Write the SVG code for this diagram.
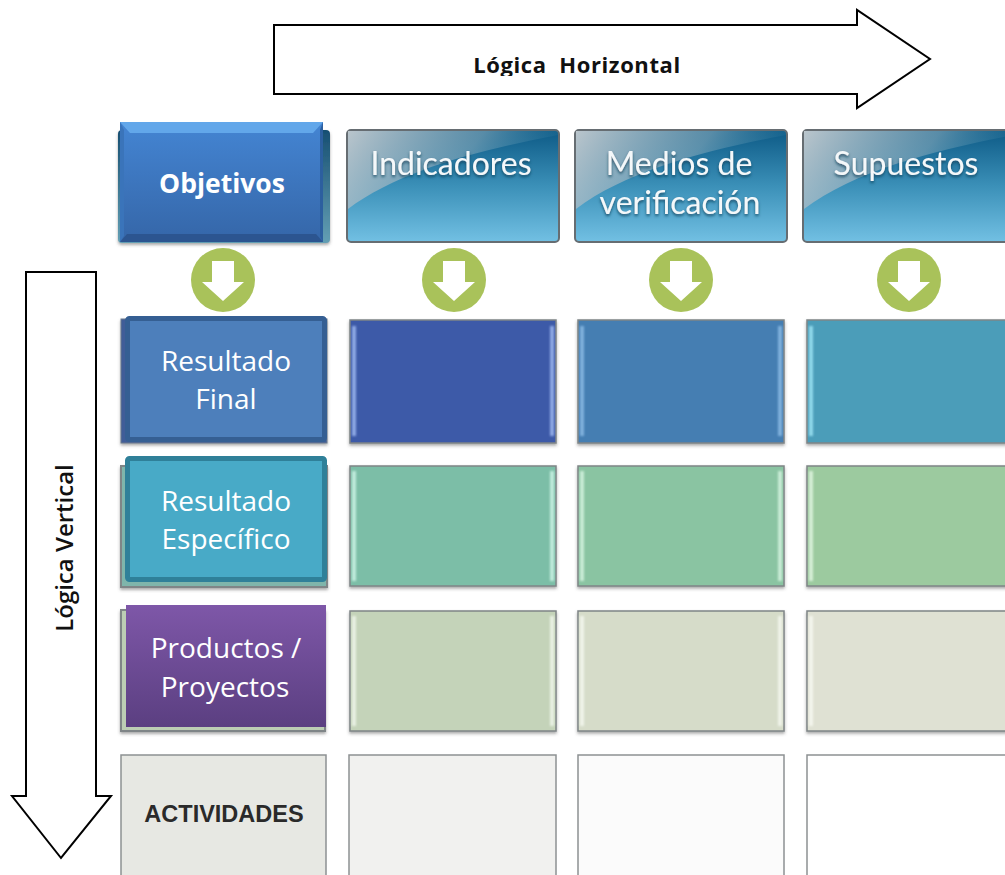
<svg xmlns="http://www.w3.org/2000/svg" width="1005" height="875" viewBox="0 0 1005 875">
<style>
text{text-anchor:middle}
.o{font-family:"Open Sans","Noto Sans",sans-serif}
.w{fill:#fff;font-size:28px}
.h{font-family:"Lato","Noto Sans",sans-serif;font-size:32px;fill:#f4f8fa;filter:url(#ts)}
.arrow{fill:#fff;stroke:#000;stroke-width:2}
.cell{stroke:#7f8587;stroke-width:1.500;filter:url(#sh)}
.lite{stroke:#8d9193;stroke-width:1.500}
.hd{fill:url(#hg);stroke:#666d72;stroke-width:2}
.gl{fill:url(#gg)}
.circ{fill:#a9c25a}
.dw{fill:#fff}
.st{filter:url(#bl)}
.lg{font-family:"Open Sans","Noto Sans",sans-serif;font-weight:600;fill:#111}
</style>
<defs>
<linearGradient id="hg" x1="0" y1="0" x2="0" y2="1"><stop offset="0" stop-color="#0d5a86"/><stop offset=".5" stop-color="#3b90b8"/><stop offset="1" stop-color="#72c0e3"/></linearGradient>
<linearGradient id="gg" x1="0" y1="0" x2="1" y2=".3"><stop offset="0" stop-color="#c3cbd0" stop-opacity=".95"/><stop offset=".6" stop-color="#7fa5b8" stop-opacity=".65"/><stop offset="1" stop-color="#2f7fa5" stop-opacity=".05"/></linearGradient>
<linearGradient id="og" x1="0" y1="0" x2="0" y2="1"><stop offset="0" stop-color="#4485d3"/><stop offset="1" stop-color="#3566a8"/></linearGradient>
<linearGradient id="pg" x1="0" y1="0" x2="0" y2="1"><stop offset="0" stop-color="#7e57a8"/><stop offset="1" stop-color="#5b3f81"/></linearGradient>
<linearGradient id="bk" x1="0" y1="0" x2="0" y2="1"><stop offset="0" stop-color="#174f72"/><stop offset="1" stop-color="#639fb4"/></linearGradient>
<filter id="ts" x="-10%" y="-20%" width="120%" height="150%"><feDropShadow dx="0" dy="2" stdDeviation="1.500" flood-color="#073a55" flood-opacity=".8"/></filter>
<filter id="sh" x="-5%" y="-5%" width="110%" height="112%"><feDropShadow dx="0" dy="2" stdDeviation="1.500" flood-color="#555" flood-opacity=".5"/></filter>
<filter id="bl" x="-100%" y="-5%" width="300%" height="110%"><feGaussianBlur stdDeviation=".8"/></filter>
<clipPath id="cut"><rect x="460" y="45" width="240" height="31"/></clipPath>
<g id="dn"><circle class="circ" r="32"/><path class="dw" d="M-11-19H11V2H21L0 21-21 2H-11Z"/></g>
</defs>
<rect width="1005" height="875" fill="#fff"/>

<g id="connectors">
<path class="arrow" d="M274 25H857V10L930 59 857 108V94H274Z"/>
<path class="arrow" d="M26 272H96V796H111L61 858 12 796H26Z"/>
<use href="#dn" x="223" y="280"/>
<use href="#dn" x="454" y="280"/>
<use href="#dn" x="681" y="280"/>
<use href="#dn" x="909" y="280"/>
</g>
<g clip-path="url(#cut)"><text class="lg" x="577" y="73" xml:space="preserve" style="font-size:22px;font-weight:700;letter-spacing:.6px">Lógica  Horizontal</text></g>
<text class="lg" transform="translate(73 548) rotate(-90)" style="font-size:24px">Lógica Vertical</text>

<g id="objetivos">
<rect x="118" y="130" width="212" height="113" rx="4" fill="url(#bk)" filter="url(#sh)"/>
<rect x="120" y="122" width="203" height="120" fill="url(#og)"/>
<path d="M120 122H323L313 133H130Z" fill="#62a7ea"/>
<path d="M120 242H323L316 234H127Z" fill="#2c5590"/>
<path d="M120 122V242L124 236V130Z" fill="#3a74ba"/>
<path d="M323 122V242L320 236V130Z" fill="#2c5f9f"/>
<text class="o" x="222" y="193" style="font-weight:700;font-size:26.500px;fill:#fff">Objetivos</text>
</g>
<g id="indicadores">
<rect class="hd" x="347" y="130" width="212" height="112" rx="4"/>
<path class="gl" d="M348 131H558V135C480 150 400 170 348 209Z"/>
<text class="h" x="451" y="175">Indicadores</text>
</g>
<g id="medios">
<rect class="hd" x="575" y="130" width="212" height="112" rx="4"/>
<path class="gl" d="M576 131H786V135C708 150 628 170 576 209Z"/>
<text class="h" x="679" y="175">Medios de</text>
<text class="h" x="680" y="214">verificación</text>
</g>
<g id="supuestos">
<rect class="hd" x="803" y="130" width="212" height="112" rx="4"/>
<path class="gl" d="M804 131H1014V135C936 150 856 170 804 209Z"/>
<text class="h" x="906" y="175">Supuestos</text>
</g>

<g id="resultado-final">
<rect x="121" y="319" width="206" height="124" fill="#3f5d98" stroke="#6b7a8c" filter="url(#sh)"/>
<rect x="127.500" y="318.500" width="197" height="121" rx="2" fill="#4d7fbb" stroke="#355f93" stroke-width="5"/>
<text class="o w" x="226" y="371">Resultado</text>
<text class="o w" x="226" y="409">Final</text>
</g>
<g id="c11"><rect class="cell" x="350" y="320" width="206" height="123" fill="#3d5aa8"/><rect class="st" x="352" y="326" width="4" height="110" fill="#8ea8e4"/><rect class="st" x="550" y="326" width="4" height="110" fill="#8ea8e4"/></g>
<g id="c12"><rect class="cell" x="578" y="320" width="206" height="123" fill="#447eb2"/><rect class="st" x="580" y="326" width="4" height="110" fill="#7fb0dc"/><rect class="st" x="778" y="326" width="4" height="110" fill="#7fb0dc"/></g>
<g id="c13"><rect class="cell" x="807" y="320" width="210" height="123" fill="#4b9db9"/><rect class="st" x="809" y="326" width="4" height="110" fill="#8fd8ea"/></g>

<g id="resultado-especifico">
<rect x="121" y="466" width="206" height="121" fill="#7fb5ab" stroke="#7f8587" stroke-width="2" filter="url(#sh)"/>
<rect x="127.500" y="458.500" width="197" height="121" rx="2" fill="#48aac7" stroke="#2f8099" stroke-width="5"/>
<text class="o w" x="226" y="511">Resultado</text>
<text class="o w" x="226" y="549">Específico</text>
</g>
<g id="c21"><rect class="cell" x="350" y="466" width="206" height="120" fill="#7cbea7"/><rect class="st" x="352" y="471" width="4" height="110" fill="#c0ebdc"/><rect class="st" x="550" y="471" width="4" height="110" fill="#c0ebdc"/></g>
<g id="c22"><rect class="cell" x="578" y="466" width="206" height="120" fill="#8ac4a2"/><rect class="st" x="580" y="471" width="4" height="110" fill="#c8ebd5"/><rect class="st" x="778" y="471" width="4" height="110" fill="#c8ebd5"/></g>
<g id="c23"><rect class="cell" x="807" y="466" width="210" height="120" fill="#9cca9f"/><rect class="st" x="809" y="471" width="4" height="110" fill="#d5eed6"/></g>

<g id="productos">
<rect x="121" y="610" width="204" height="121" fill="#bccdb4" stroke="#7f8587" stroke-width="2" filter="url(#sh)"/>
<rect x="126" y="605" width="200" height="122" fill="url(#pg)"/>
<text class="o w" x="226" y="658">Productos /</text>
<text class="o w" x="225" y="697">Proyectos</text>
</g>
<g id="c31"><rect class="cell" x="350" y="611" width="206" height="120" fill="#c4d3b9"/><rect class="st" x="352" y="616" width="4" height="110" fill="#e8f0e2"/><rect class="st" x="550" y="616" width="4" height="110" fill="#e8f0e2"/></g>
<g id="c32"><rect class="cell" x="578" y="611" width="206" height="120" fill="#d6dcc9"/><rect class="st" x="580" y="616" width="4" height="110" fill="#eff3e8"/><rect class="st" x="778" y="616" width="4" height="110" fill="#eff3e8"/></g>
<g id="c33"><rect class="cell" x="807" y="611" width="210" height="120" fill="#dfe1d3"/><rect class="st" x="809" y="616" width="4" height="110" fill="#f3f4ec"/></g>

<g id="actividades">
<rect class="lite" x="121" y="755" width="205" height="125" fill="#e7e8e3"/>
<text x="224" y="822" style="font-family:'Liberation Sans',sans-serif;font-weight:700;font-size:23.500px;fill:#2a2a2a">ACTIVIDADES</text>
</g>
<g id="c41"><rect class="lite" x="349" y="755" width="207" height="125" fill="#f1f1ef"/></g>
<g id="c42"><rect class="lite" x="578" y="755" width="206" height="125" fill="#fbfbfb"/></g>
<g id="c43"><rect class="lite" x="807" y="755" width="210" height="125" fill="#fff"/></g>
</svg>
